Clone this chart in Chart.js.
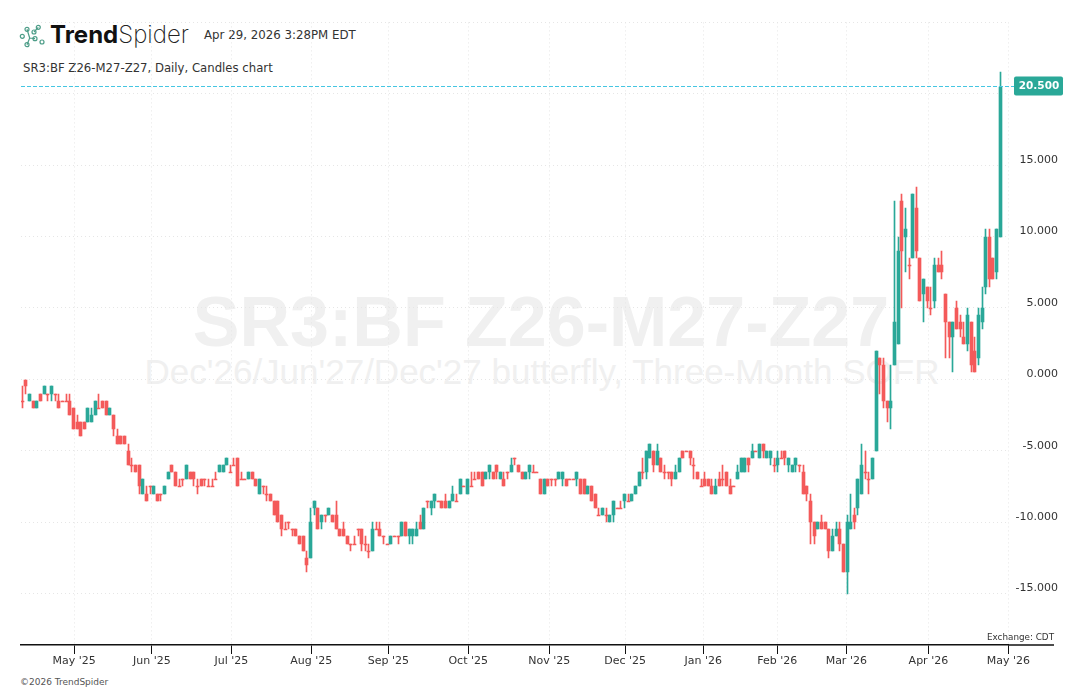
<!DOCTYPE html>
<html>
<head>
<meta charset="utf-8">
<title>SR3:BF Z26-M27-Z27</title>
<script src="https://cdn.jsdelivr.net/npm/chart.js@4"></script>
<style>
    html, body { margin: 0; padding: 0; background: #fff; overflow: hidden; }
    #wrap { position: relative; width: 1084px; height: 692px; }
    #wrap div, #wrap svg { position: absolute; white-space: nowrap; }
    canvas { position: absolute; left: 0; top: 0; }
    .hdr { font-family: "DejaVu Sans", sans-serif; color: #333; }
    .mark { font-family: "Liberation Sans", sans-serif; color: #f0f0f0; transform: translateX(-50%); }
</style>
</head>
<body>
<div id="wrap">
    <div class="mark" style="left:541px;top:282px;font-size:70px;font-weight:bold;">SR3:BF Z26-M27-Z27</div>
    <div class="mark" style="left:542px;top:352px;font-size:35px;">Dec'26/Jun'27/Dec'27 butterfly, Three-Month SOFR</div>
    <svg style="left:18px;top:22px" width="30" height="28" fill="none" stroke="#4d9d88" stroke-width="1.2">
        <path d="M9 7.3 L11.7 16 L9 22.7 M11.7 16 L17 16.7 M16 10 L20.3 5.3"/>
        <circle cx="4.3" cy="14.3" r="2"/><circle cx="9" cy="7.3" r="2"/><circle cx="20.3" cy="5.3" r="2"/>
        <circle cx="16" cy="10" r="2"/><circle cx="24" cy="20" r="2"/><circle cx="17" cy="16.7" r="2"/>
        <circle cx="9" cy="22.7" r="2"/>
    </svg>
    <div style="left:50px;top:20px;font:700 24px Inter, sans-serif;color:#111;">Trend<span style="font-weight:200;color:#222;">Spider</span></div>
    <div class="hdr" style="left:204px;top:28px;font-size:11.8px;">Apr 29, 2026 3:28PM EDT</div>
    <div class="hdr" style="left:23px;top:61px;font-size:11.7px;">SR3:BF Z26-M27-Z27, Daily, Candles chart</div>
    <div class="hdr" style="left:20px;top:677px;font-size:9px;color:#555;">©2026 TrendSpider</div>
    <canvas id="chart" width="1084" height="692"></canvas>
</div>
<script>
const opens = [
    -1.5, 0, -1.5, -1.5, -2, -1, -1, -1, -1, -1, -1.5, -1.5, -1.5, -1.5, -2, -3, -3, -3, -3, -3, -2.5, -2, -1.5, -1.5, -2.5,
    -2.5, -4, -4, -4, -5, -6, -6, -6, -8, -8, -7.5, -8, -8, -8, -8, -7, -6, -6.5, -7.5, -7, -7, -6.5, -6.5,
    -7.5, -7, -7, -7.5, -7.5, -7, -6.5, -6.5, -6, -6.5, -6, -5.5, -7, -7, -7, -6.5, -7, -8, -7.5, -8, -8, -8.5, -8.5, -9.5,
    -10.5, -10, -10.5, -10.5, -11, -11, -12.5, -12.5, -9, -9, -10, -9.5, -9.5, -9.5, -9.5, -10.5, -10.5, -11, -11.5, -11.5, -10.5, -10.5, -11.5, -12,
    -12, -10.5, -10.5, -11, -11.5, -11.5, -11, -11, -11, -10, -11, -11, -11, -10, -10.5, -8.5, -9, -8.5, -8.5, -8.5, -8.5, -9, -8.5, -8.5,
    -8, -7.5, -8, -7.5, -7, -6.5, -6.5, -7, -6.5, -6.5, -6, -7, -7, -6.5, -6.5, -5.5, -6, -6.5, -7, -6.5, -6.5, -6.5, -7, -8,
    -7, -7, -7, -7, -7, -7, -7, -7, -7, -7, -7, -8, -7.5, -8, -9.5, -9.5, -9.5, -10, -9.5, -9, -9, -8.5, -8.5, -8.5,
    -8, -7.5, -6.5, -6.5, -5.5, -5, -6, -5.5, -6.5, -6.5, -6.5, -7, -6.5, -5, -5, -5, -6, -6.5, -7.5, -7, -7, -7.5, -8, -7,
    -7, -6.5, -7.5, -7.5, -7, -6.5, -6.5, -5.5, -5.5, -5, -5.5, -4.5, -5.5, -5.5, -6, -6, -5.5, -5, -6, -6.5, -6, -6, -6.5, -7.5,
    -8.5, -10, -10.5, -10, -10, -10.5, -12, -11, -10.5, -11.5, -13.5, -10.5, -9.5, -9, -8, -6.5, -7, -7,
    -5, 1.5, 1, -1.5, -2, 1, 2.5, 12.5, 10, 8, 8.5, 12, 8.5, 6, 6.5, 5, 5.5, 8, 8, 6, 4, 3, 5, 4, 3, 2.5, 4, 2, 1.5, 4, 6.5, 10, 8.5, 7.5, 10
];
const closes = [
    -1.5, -0.5, -1, -2, -1.5, -1.5, -0.5, -1, -0.5, -1, -2, -1.5, -1.5, -2.5, -3.5, -3.5, -4, -3.5, -2, -2.5, -1.5, -2, -2, -2.5, -2,
    -3.5, -4.5, -4.5, -4.5, -6, -6, -6.5, -7.5, -7, -8.5, -7.5, -7.5, -8.5, -8, -7.5, -6.5, -6.5, -7.5, -7.5, -7, -6, -7, -7,
    -7.5, -7.5, -7, -7.5, -7.5, -7, -6, -6, -5.5, -6.5, -6, -7.5, -7, -7, -6.5, -7, -7.5, -7, -7.5, -8, -8.5, -9.5, -10, -10.5,
    -10.5, -10, -10.5, -11, -11.5, -12, -13, -10, -8.5, -10.5, -9.5, -9.5, -9, -10, -10.5, -11, -11, -11.5, -11.5, -11.5, -10.5, -11.5, -11.5, -12,
    -10.5, -10.5, -11, -11, -11.5, -11, -11, -11, -10, -11, -10.5, -10.5, -10.5, -10.5, -9, -8.5, -8.5, -8, -8.5, -9, -9, -8.5, -8, -8.5,
    -7, -7.5, -7, -7.5, -7, -7, -7.5, -6.5, -6, -7, -6.5, -6.5, -7.5, -6.5, -6, -5.5, -6.5, -7, -6.5, -6, -6.5, -6.5, -8, -7,
    -7.5, -7, -7, -6.5, -6.5, -7.5, -7, -7, -6.5, -8, -8, -7.5, -8.5, -9, -9.5, -9, -9.5, -9.5, -8.5, -9, -9, -8, -8.5, -8,
    -7.5, -6.5, -6.5, -5, -4.5, -6, -5, -6.5, -6.5, -6.5, -7, -6.5, -5.5, -5.5, -5, -5.5, -6, -7, -7.5, -7.5, -7.5, -8, -7.5, -7.5,
    -7, -7.5, -8, -7.5, -6.5, -5.5, -5.5, -6, -5, -5, -4.5, -5, -5, -5, -6, -5.5, -5.5, -5.5, -5.5, -6, -5.5, -6, -8, -8,
    -10, -11, -10, -10.5, -10.5, -12, -11, -10.5, -11.5, -13.5, -10, -10, -10, -7, -6, -6.5, -7, -5.5,
    2, 1, -1.5, -2, -1.5, 4, 9, 9, 10.5, 8, 13, 9, 5.5, 7, 5.5, 5, 8, 7.5, 7.5, 4, 3, 4, 3.5, 3.5, 2.5, 4.5, 1, 0.5, 4.5, 5, 10, 7, 7, 10.5, 20.5
];
const highs = [
    -0.5, 0, -1, -1.5, -1.5, -1, -0.5, -1, -0.5, -1, -1, -1.5, -1, -1, -2, -2.5, -3, -3, -2, -2, -1.5, -1, -1.5, -1.5, -2,
    -2.5, -3.5, -4, -4, -4.5, -5.5, -6, -6, -7, -7.5, -7.5, -7.5, -8, -8, -7.5, -6.5, -6, -6.5, -7, -7, -6, -6.5, -6.5,
    -7, -7, -7, -7, -7, -6.5, -6, -6, -5.5, -6, -5.5, -5.5, -6.5, -7, -6.5, -6.5, -7, -7, -7.5, -7.5, -8, -8.5, -8.5, -9.5,
    -10, -10, -10.5, -10.5, -11, -11, -12, -9, -8.5, -9, -9.5, -9.5, -9, -9.5, -8.5, -10.5, -10, -11, -11.5, -11, -10.5, -10.5, -11, -11.5,
    -10, -10, -10, -11, -11.5, -11, -11, -11, -10, -10, -10.5, -10.5, -10, -9.5, -9, -8.5, -8.5, -8, -8.5, -8.5, -8, -8.5, -7.5, -8,
    -7, -7.5, -7, -6.5, -6.5, -6.5, -6.5, -6.5, -6, -6.5, -6, -6.5, -6.5, -6.5, -5.5, -5.5, -6, -6.5, -6.5, -6, -6, -6.5, -7, -7,
    -7, -7, -7, -6.5, -6.5, -7, -7, -7, -6.5, -7, -7, -7.5, -7.5, -8, -9, -9, -9, -9.5, -8.5, -9, -8.5, -8, -8, -8,
    -7.5, -6.5, -5.5, -5, -4.5, -5, -4.5, -5.5, -6, -6.5, -6.5, -6, -5.5, -5, -5, -5, -5.5, -6.5, -7, -6.5, -7, -7, -7, -6.5,
    -6, -6.5, -7, -7.5, -6, -5.5, -5.5, -5.5, -4.5, -5, -4.5, -4.5, -5, -5, -5.5, -5, -5, -5, -5.5, -6, -5.5, -6, -6, -7.5,
    -8, -10, -10, -9.5, -10, -10.5, -10.5, -10, -10, -11.5, -9.5, -8, -9, -7, -4.5, -5, -6.5, -5.5,
    2, 1.5, 1.5, -1.5, 1, 12.5, 10, 13, 12, 8.5, 13, 13.5, 8.5, 7, 6.5, 6.5, 8.5, 8.5, 9, 6, 4, 4, 5.5, 4.5, 4, 5, 4, 3, 5, 6.5, 10.5, 10.5, 8.5, 10.5, 21.5
];
const lows = [
    -2, -1, -1.5, -2, -2, -1.5, -1, -1.5, -1.5, -1.5, -2, -1.5, -1.5, -2.5, -3.5, -3.5, -4, -3.5, -3, -3, -2.5, -2, -2, -2.5, -2.5,
    -4, -4.5, -4.5, -4.5, -6, -6.5, -6.5, -8, -8, -8.5, -8, -8, -8.5, -8.5, -8, -7, -6.5, -7.5, -7.5, -7.5, -7, -7, -7.5,
    -8, -7.5, -7.5, -7.5, -7.5, -7, -6.5, -6.5, -6, -6.5, -6, -7.5, -7, -7, -7, -7, -7.5, -8, -8, -8.5, -8.5, -9.5, -10, -11,
    -10.5, -10.5, -11, -11, -11.5, -12, -13.5, -12.5, -9.5, -10.5, -10.5, -10, -9.5, -10, -10.5, -11, -11, -11.5, -12, -11.5, -11, -12, -12, -12.5,
    -12, -10.5, -11, -11.5, -11.5, -11.5, -11, -11.5, -11, -11, -11.5, -11.5, -11, -10.5, -10.5, -9, -9.5, -9, -8.5, -9, -9, -9, -8.5, -8.5,
    -8, -7.5, -8, -7.5, -7, -7, -7.5, -7, -7, -7, -7, -7, -7.5, -7, -6.5, -6, -6.5, -7, -7, -7, -6.5, -6.5, -8, -8,
    -7.5, -7.5, -7.5, -7, -7.5, -7.5, -7, -7, -7.5, -8, -8, -8, -8.5, -9, -9.5, -9.5, -10, -10, -10, -9, -9, -9, -8.5, -8.5,
    -8, -7.5, -7, -7, -5.5, -6.5, -6, -6.5, -7, -7, -7.5, -7, -6.5, -5.5, -5, -6, -7, -7, -7.5, -7.5, -7.5, -8, -8, -7.5,
    -7.5, -7.5, -8, -7.5, -7, -6.5, -6.5, -6.5, -5.5, -5, -5.5, -5.5, -5.5, -6, -6.5, -6.5, -5.5, -6, -6.5, -6.5, -6.5, -6.5, -8, -8.5,
    -11.5, -11.5, -10.5, -10.5, -10.5, -12.5, -12, -11, -12, -13.5, -15, -10.5, -10.5, -9.5, -8, -7, -8, -7,
    -5, -1, -2, -3, -3.5, 1, 2.5, 5, 7.5, 7, 8.5, 8.5, 5.5, 4, 5, 4.5, 5, 7.5, 7, 1.5, 1.5, 0.5, 3.5, 3, 2.5, 2, 0.5, 0.5, 1, 3.5, 6, 6.5, 7, 7, 10
];

// month boundaries, as positions on the bar axis
const monthTicks = [14.2, 35.5, 57.3, 79.2, 100.3, 122.2, 144.4, 165.2, 186.6, 206.9, 225.8, 248.3, 270.2];
const monthLabels = ["May '25", "Jun '25", "Jul '25", "Aug '25", "Sep '25", "Oct '25", "Nov '25", "Dec '25", "Jan '26", "Feb '26", "Mar '26", "Apr '26", "May '26"];

const UP = '#2aa898';
const DOWN = '#f45a5a';
const tickFont = { family: '"DejaVu Sans", sans-serif', size: 11 };

const barColors = closes.map((c, i) => (c > opens[i] ? UP : DOWN));
const bodies = closes.map((c, i) => ({ x: i, y: [opens[i], c] }));
const wicks = lows.map((l, i) => ({ x: i, y: [l, highs[i]] }));

// snap bars to whole pixels, the reference is not antialiased
const snapBars = {
    id: 'snapBars',
    afterDatasetsUpdate(chart) {
        chart.getSortedVisibleDatasetMetas().forEach(meta => {
            meta.data.forEach(el => {
                el.x = Math.floor(el.x) + 0.5;
                el.y = Math.round(el.y);
                el.base = Math.round(el.base);
            });
        });
    }
};

// last price line and tag, axis line stub, exchange note
const overlay = {
    id: 'overlay',
    afterDraw(chart) {
        const { ctx, scales: { y }, chartArea } = chart;
        const last = closes[closes.length - 1];
        const py = Math.round(y.getPixelForValue(last)) - 0.5;
        ctx.save();
        ctx.strokeStyle = '#45c6e2';
        ctx.lineWidth = 1;
        ctx.setLineDash([4, 2]);
        ctx.beginPath();
        ctx.moveTo(chartArea.left, py);
        ctx.lineTo(1014, py);
        ctx.stroke();
        ctx.setLineDash([]);

        ctx.fillStyle = UP;
        ctx.beginPath();
        ctx.roundRect(1014, py - 10, 49, 19, 2);
        ctx.fill();
        ctx.fillStyle = '#fff';
        ctx.font = 'bold 10.5px "DejaVu Sans", sans-serif';
        ctx.textAlign = 'center';
        ctx.textBaseline = 'middle';
        ctx.fillText(last.toFixed(3), 1039, py);

        ctx.strokeStyle = '#111';
        ctx.lineWidth = 1.5;
        ctx.beginPath();
        ctx.moveTo(chartArea.right, chartArea.bottom);
        ctx.lineTo(1054, chartArea.bottom);
        ctx.stroke();

        ctx.fillStyle = '#333';
        ctx.font = '8.8px "DejaVu Sans", sans-serif';
        ctx.textAlign = 'right';
        ctx.fillText('Exchange: CDT', 1054, 638);
        ctx.restore();
    }
};

new Chart(document.getElementById('chart'), {
    type: 'bar',
    data: {
        datasets: [
            { data: wicks, backgroundColor: barColors, barThickness: 1, grouped: false },
            { data: bodies, backgroundColor: barColors, barThickness: 3, grouped: false, minBarLength: 1 }
        ]
    },
    plugins: [snapBars, overlay],
    options: {
        responsive: false,
        animation: false,
        devicePixelRatio: 1,
        layout: { padding: { left: 21, top: 22.4, right: 26, bottom: 0 } },
        plugins: { legend: { display: false }, tooltip: { enabled: false } },
        scales: {
            x: {
                type: 'linear',
                offset: false,
                min: -0.356,
                max: 270.2,
                afterBuildTicks: scale => { scale.ticks = monthTicks.map(v => ({ value: v })); },
                afterFit: scale => { scale.height = 47; },
                border: { color: '#111', width: 1.5, dash: [1, 3] },
                grid: { offset: false, color: '#e6e6e6', tickColor: '#111', tickLength: 9, tickWidth: 1 },
                ticks: {
                    color: '#333',
                    font: tickFont,
                    padding: 1,
                    autoSkip: false,
                    maxRotation: 0,
                    callback: value => monthLabels[monthTicks.indexOf(value)]
                }
            },
            y: {
                position: 'right',
                min: -18.607,
                max: 25,
                afterBuildTicks: scale => { scale.ticks = scale.ticks.filter(t => t.value % 5 === 0); },
                afterFit: scale => { scale.width = 49.7; },
                border: { display: false, dash: [1, 3] },
                grid: { color: '#e6e6e6', drawTicks: false },
                ticks: {
                    stepSize: 5,
                    color: '#333',
                    font: tickFont,
                    padding: 0,
                    labelOffset: -5,
                    crossAlign: 'far',
                    callback: value => (value > 15 ? '' : value.toFixed(3))
                }
            }
        }
    }
});
</script>
</body>
</html>
